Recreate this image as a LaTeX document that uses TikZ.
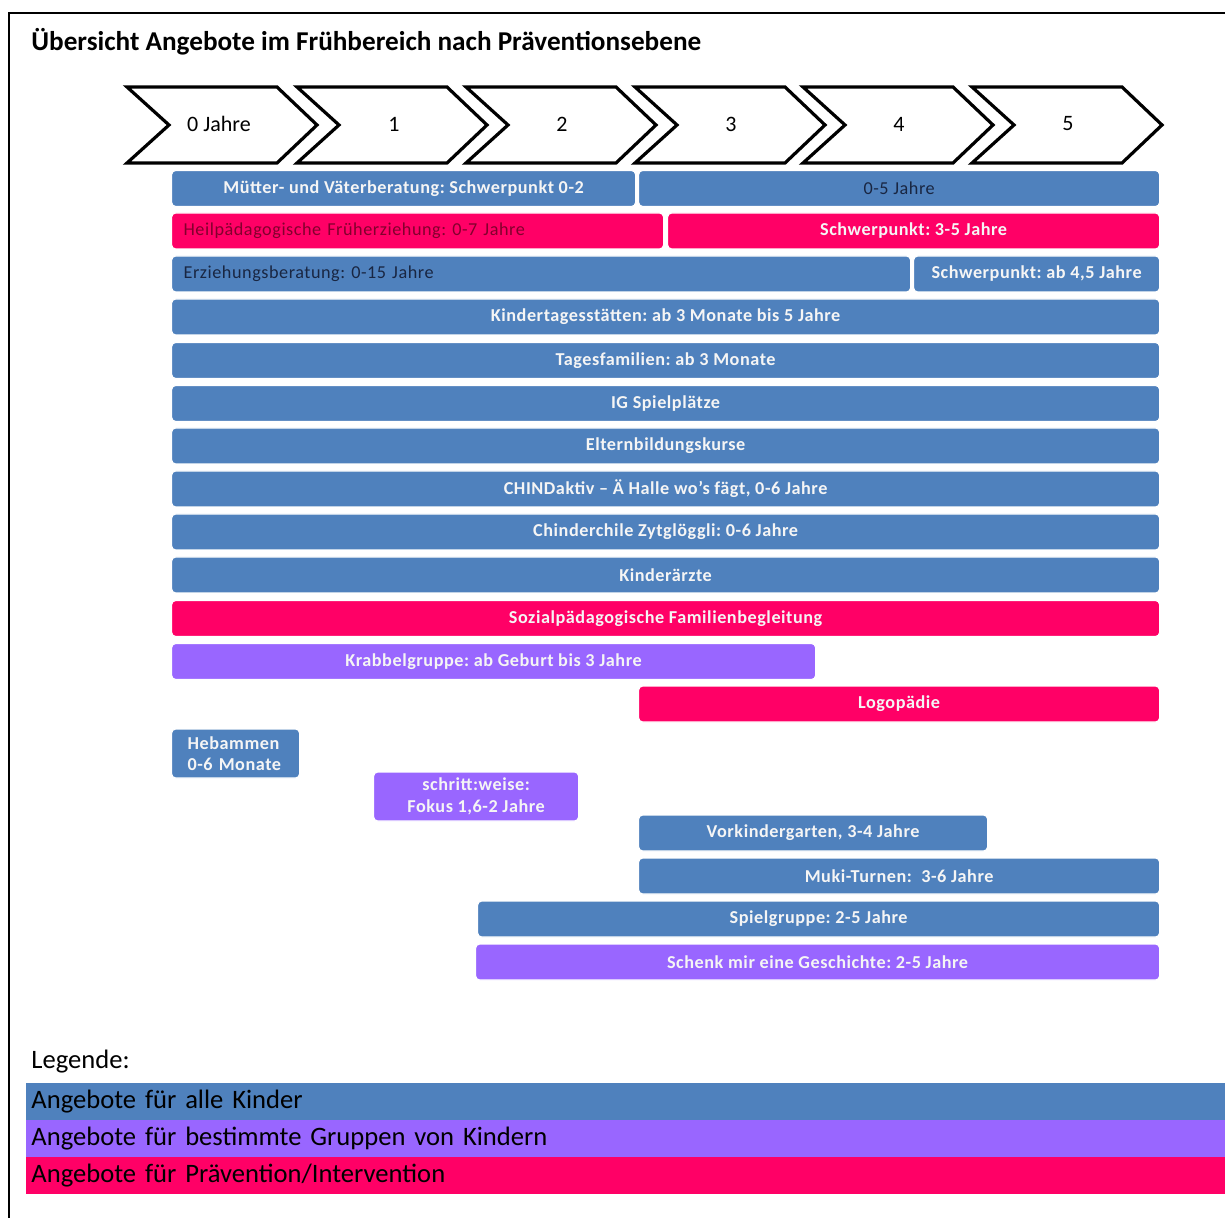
\documentclass[tikz,border=0pt]{standalone}
\usepackage{fontspec}
\setmainfont{Carlito}
\newfontfamily\barfont[LetterSpace=3]{Carlito}
\frenchspacing
\usepackage{xcolor}
\definecolor{allblue}{RGB}{79,129,189}
\definecolor{grouplila}{RGB}{153,102,255}
\definecolor{praered}{RGB}{255,0,102}
\definecolor{navytext}{RGB}{25,38,66}
\definecolor{darkredtext}{RGB}{130,0,45}
\usepackage{tikz}
\usetikzlibrary{positioning}

\tikzset{
  angebot/.style={rectangle, rounded corners=2pt, draw=white, line width=0.6pt,
    minimum height=18pt, inner sep=0pt, anchor=west, text=white!96!black,
    font=\barfont\fontsize{9.1}{10.8}\selectfont\bfseries},
  plaintext/.style={font=\barfont\fontsize{9.1}{10.8}\selectfont},
  allbar/.style={angebot, fill=allblue},
  groupbar/.style={angebot, fill=grouplila},
  praebar/.style={angebot, fill=praered},
  chevron/.style={line width=1.6pt, line join=miter, draw=black, fill=white},
  agelabel/.style={font=\fontsize{11}{13}\selectfont},
  legbar/.style={rectangle, inner xsep=2.5pt, inner ysep=0pt, anchor=north west,
    minimum width=599.5pt, minimum height=18.5pt, text width=594.5pt, align=left,
    font=\fontsize{13.3}{15}\selectfont}
}

\begin{document}
\begin{tikzpicture}[x=0.5pt, y=-0.5pt]
  \useasboundingbox (0,0) rectangle (1225,1218);
  % Frame
  \draw[line width=1pt] (9,1218) -- (9,13) -- (1225,13);
  \node[font=\fontsize{13.6}{15}\selectfont\bfseries, anchor=west, inner sep=0pt] (titel) at (31,42)
    {Übersicht Angebote im Frühbereich nach Präventionsebene};

  % --- Age chevrons ---
  \draw[chevron] (127,87) -- ++(150,0) -- ++(40,38) -- ++(-40,38) -- ++(-150,0) -- ++(42,-38) -- cycle;
  \draw[chevron] (297,87) -- ++(150,0) -- ++(40,38) -- ++(-40,38) -- ++(-150,0) -- ++(42,-38) -- cycle;
  \draw[chevron] (466,87) -- ++(150,0) -- ++(40,38) -- ++(-40,38) -- ++(-150,0) -- ++(42,-38) -- cycle;
  \draw[chevron] (635,87) -- ++(150,0) -- ++(40,38) -- ++(-40,38) -- ++(-150,0) -- ++(42,-38) -- cycle;
  \draw[chevron] (803,87) -- ++(150,0) -- ++(40,38) -- ++(-40,38) -- ++(-150,0) -- ++(42,-38) -- cycle;
  \draw[chevron] (972,87) -- ++(150,0) -- ++(40,38) -- ++(-40,38) -- ++(-150,0) -- ++(42,-38) -- cycle;
  \node[agelabel] (alter0) at (219,124) {0 Jahre};
  \node[agelabel] (alter1) at (394,124) {1};
  \node[agelabel] (alter2) at (562,124) {2};
  \node[agelabel] (alter3) at (731,124) {3};
  \node[agelabel] (alter4) at (899,124) {4};
  \node[agelabel] (alter5) at (1068,124) {5};

  % --- Offers, one row each ---
  \node[allbar, minimum width=232pt] (mutter) at (171,188.5) {Mütter- und Väterberatung: Schwerpunkt 0-2};
  \node[allbar, minimum width=260.5pt, text=navytext, plaintext] (nullfuenf) at (638,188.5) {0-5 Jahre};
  \node[praebar, minimum width=246pt, text width=234pt, align=left, text=darkredtext,
    plaintext] (heilpaed) at (171,231) {Heilpädagogische Früherziehung: 0-7 Jahre};
  \node[praebar, minimum width=246pt] (hpschwer) at (667,231) {Schwerpunkt: 3-5 Jahre};
  \node[allbar, minimum width=369.5pt, text width=357.5pt, align=left, text=navytext,
    plaintext] (erzbe) at (171,274) {Erziehungsberatung: 0-15 Jahre};
  \node[allbar, minimum width=123pt] (ebschwer) at (913,274) {Schwerpunkt: ab 4,5 Jahre};
  \node[allbar, minimum width=494pt] (kita) at (171,317) {Kindertagesstätten: ab 3 Monate bis 5 Jahre};
  \node[allbar, minimum width=494pt] (tagesfam) at (171,360.5) {Tagesfamilien: ab 3 Monate};
  \node[allbar, minimum width=494pt] (spielpl) at (171,403.5) {IG Spielplätze};
  \node[allbar, minimum width=494pt] (elternbild) at (171,446) {Elternbildungskurse};
  \node[allbar, minimum width=494pt] (chindaktiv) at (171,489) {CHINDaktiv – Ä Halle wo’s fägt, 0-6 Jahre};
  \node[allbar, minimum width=494pt] (chinderchile) at (171,532) {Chinderchile Zytglöggli: 0-6 Jahre};
  \node[allbar, minimum width=494pt] (kinderaerzte) at (171,575) {Kinderärzte};
  \node[praebar, minimum width=494pt] (sozpaed) at (171,618.5) {Sozialpädagogische Familienbegleitung};
  \node[groupbar, minimum width=322pt] (krabbel) at (171,661.5) {Krabbelgruppe: ab Geburt bis 3 Jahre};
  \node[praebar, minimum width=260.5pt] (logo) at (638,704) {Logopädie};
  \node[allbar, minimum width=64pt, minimum height=24.5pt, text width=48pt, align=left] (hebammen) at (171,753.5) {Hebammen\\0-6 Monate};
  \node[groupbar, minimum width=102.5pt, minimum height=24.5pt, align=center] (schritt) at (373,796.5) {schritt:weise:\\Fokus 1,6-2 Jahre};
  \node[allbar, minimum width=174.5pt] (vorkiga) at (638,833) {Vorkindergarten, 3-4 Jahre};
  \node[allbar, minimum width=260.5pt] (muki) at (638,876) {Muki-Turnen:\ \ 3-6 Jahre};
  \node[allbar, minimum width=341pt] (spielgr) at (477,919) {Spielgruppe: 2-5 Jahre};
  \node[groupbar, minimum width=342pt] (schenk) at (475,962) {Schenk mir eine Geschichte: 2-5 Jahre};

  % --- Legend ---
  \node[font=\fontsize{13.3}{15}\selectfont, anchor=west, inner sep=0pt] (legende) at (31,1062) {Legende:};
  \node[legbar, fill=allblue] (legall) at (26,1083) {Angebote für alle Kinder};
  \node[legbar, fill=grouplila] (leggruppe) at (26,1120) {Angebote für bestimmte Gruppen von Kindern};
  \node[legbar, fill=praered] (legprae) at (26,1157) {Angebote für Prävention/Intervention};
\end{tikzpicture}
\end{document}
